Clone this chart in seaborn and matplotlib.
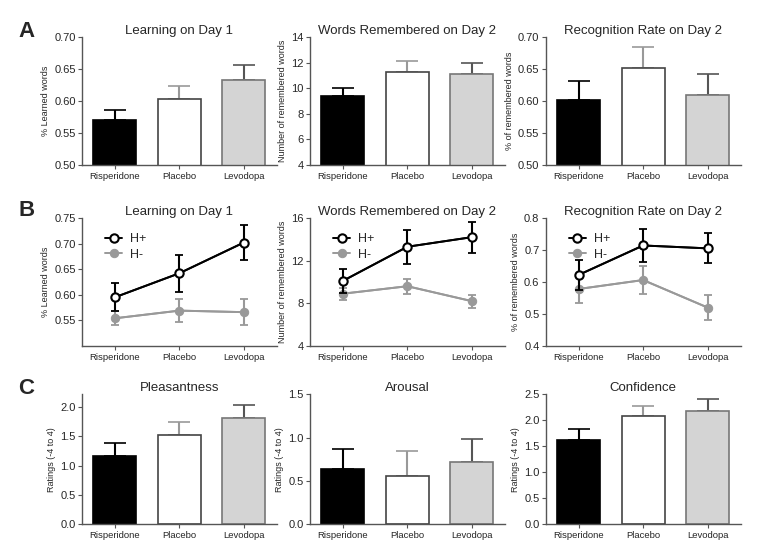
import numpy as np
import matplotlib
matplotlib.use("Agg")
import matplotlib.pyplot as plt
import seaborn as sns

sns.set_style("ticks")
plt.rcParams["font.family"] = ["Liberation Sans", "DejaVu Sans"]

groups = ["Risperidone", "Placebo", "Levodopa"]

# Row A: means and upper error ends
learn_day1 = [0.570, 0.603, 0.633]
learn_day1_err = [0.016, 0.020, 0.023]
words_day2 = [9.4, 11.25, 11.1]
words_day2_err = [0.6, 0.85, 0.9]
recog_day2 = [0.601, 0.652, 0.609]
recog_day2_err = [0.031, 0.033, 0.033]

# Row B: split by H+ / H-
learn_hp = [0.595, 0.642, 0.702]
learn_hp_err = [0.027, 0.036, 0.034]
learn_hm = [0.554, 0.569, 0.566]
learn_hm_err = [0.014, 0.022, 0.025]
words_hp = [10.1, 13.3, 14.2]
words_hp_err = [1.1, 1.6, 1.45]
words_hm = [8.9, 9.6, 8.2]
words_hm_err = [0.55, 0.7, 0.6]
recog_hp = [0.622, 0.714, 0.705]
recog_hp_err = [0.048, 0.052, 0.047]
recog_hm = [0.578, 0.606, 0.520]
recog_hm_err = [0.043, 0.044, 0.038]

# Row C: ratings
pleasant = [1.17, 1.53, 1.81]
pleasant_err = [0.21, 0.22, 0.23]
arousal = [0.64, 0.56, 0.72]
arousal_err = [0.23, 0.29, 0.26]
confidence = [1.63, 2.08, 2.18]
confidence_err = [0.21, 0.19, 0.24]

bar_fill = ["black", "white", "#d4d4d4"]
bar_edge = ["black", "#444444", "#777777"]
err_col = ["black", "#999999", "#555555"]

fig = plt.figure(figsize=(7.73, 5.5), dpi=100)
lefts = [0.106, 0.401, 0.706]
w = 0.252
bottoms = [0.70, 0.371, 0.047]
heights = [0.2327, 0.2327, 0.236]


def style_axes(ax, title, ylabel):
    ax.set_title(title, fontsize=9.5, pad=1)
    ax.set_ylabel(ylabel, fontsize=6.5, labelpad=3)
    ax.set_xlabel("")
    ax.set_xlim(-0.51, 2.51)
    ax.set_xticks(range(len(groups)))
    ax.set_xticklabels(groups, fontsize=6.8)
    ax.tick_params(axis="y", labelsize=8, length=3, pad=1.5, color="#555555")
    ax.tick_params(axis="x", length=3, pad=2, color="#555555")
    for s in ["left", "bottom"]:
        ax.spines[s].set_color("#555555")
        ax.spines[s].set_linewidth(1.0)
    sns.despine(ax=ax)


def bar_panel(ax, vals, errs, title, ylabel, ylim, yticks, fmt):
    sns.barplot(x=groups, y=vals, hue=groups, palette=bar_fill, legend=False,
                width=0.67, ax=ax, zorder=2)
    for i, p in enumerate(ax.patches):
        p.set_edgecolor(bar_edge[i])
        p.set_linewidth(1.2)
    for i in range(len(groups)):
        ax.errorbar(i, vals[i], yerr=[[0], [errs[i]]], color=err_col[i],
                    capsize=8, elinewidth=1.5, capthick=1.2, zorder=1)
    ax.set_ylim(*ylim)
    ax.set_yticks(yticks)
    ax.set_yticklabels([fmt.format(t) for t in yticks])
    style_axes(ax, title, ylabel)


def line_panel(ax, hp, hp_err, hm, hm_err, title, ylabel, ylim, yticks, fmt):
    x = np.arange(len(groups))
    ax.errorbar(x, hm, yerr=hm_err, color="#999999", lw=1.4, capsize=3,
                elinewidth=1.5, capthick=1.3, zorder=2)
    sns.lineplot(x=x, y=hm, color="#999999", marker="o", markersize=6,
                 markeredgecolor="#999999", lw=1.4, ax=ax, zorder=3, label="H-")
    ax.errorbar(x, hp, yerr=hp_err, color="black", lw=1.4, capsize=3,
                elinewidth=1.5, capthick=1.3, zorder=4)
    sns.lineplot(x=x, y=hp, color="black", marker="o", markersize=6,
                 markerfacecolor="white", markeredgecolor="black",
                 markeredgewidth=1.5, lw=1.4, ax=ax, zorder=5, label="H+")
    ax.set_ylim(*ylim)
    ax.set_yticks(yticks)
    ax.set_yticklabels([fmt.format(t) for t in yticks])
    handles, labels = ax.get_legend_handles_labels()
    ax.legend(handles[::-1], labels[::-1], loc="upper left", frameon=False,
              fontsize=9, handlelength=1.4, handletextpad=0.6,
              bbox_to_anchor=(0.06, 0.97), labelspacing=0.3)
    style_axes(ax, title, ylabel)


axes = [[fig.add_axes([l, b, w, h]) for l in lefts] for b, h in zip(bottoms, heights)]

bar_panel(axes[0][0], learn_day1, learn_day1_err, "Learning on Day 1",
          "% Learned words", (0.5, 0.7), [0.50, 0.55, 0.60, 0.65, 0.70], "{:.2f}")
bar_panel(axes[0][1], words_day2, words_day2_err, "Words Remembered on Day 2",
          "Number of remembered words", (4, 14), [4, 6, 8, 10, 12, 14], "{:.0f}")
bar_panel(axes[0][2], recog_day2, recog_day2_err, "Recognition Rate on Day 2",
          "% of remembered words", (0.5, 0.7), [0.50, 0.55, 0.60, 0.65, 0.70], "{:.2f}")

line_panel(axes[1][0], learn_hp, learn_hp_err, learn_hm, learn_hm_err,
           "Learning on Day 1", "% Learned words", (0.5, 0.75),
           [0.55, 0.60, 0.65, 0.70, 0.75], "{:.2f}")
line_panel(axes[1][1], words_hp, words_hp_err, words_hm, words_hm_err,
           "Words Remembered on Day 2", "Number of remembered words", (4, 16),
           [4, 8, 12, 16], "{:.0f}")
line_panel(axes[1][2], recog_hp, recog_hp_err, recog_hm, recog_hm_err,
           "Recognition Rate on Day 2", "% of remembered words", (0.4, 0.8),
           [0.4, 0.5, 0.6, 0.7, 0.8], "{:.1f}")

bar_panel(axes[2][0], pleasant, pleasant_err, "Pleasantness",
          "Ratings (-4 to 4)", (0, 2.22), [0.0, 0.5, 1.0, 1.5, 2.0], "{:.1f}")
bar_panel(axes[2][1], arousal, arousal_err, "Arousal",
          "Ratings (-4 to 4)", (0, 1.5), [0.0, 0.5, 1.0, 1.5], "{:.1f}")
bar_panel(axes[2][2], confidence, confidence_err, "Confidence",
          "Ratings (-4 to 4)", (0, 2.5), [0.0, 0.5, 1.0, 1.5, 2.0, 2.5], "{:.1f}")

for letter, y in zip(["A", "B", "C"], [0.942, 0.618, 0.294]):
    fig.text(0.024, y, letter, fontsize=16, fontweight="bold", va="center")

fig.savefig("out.png", dpi=100)
